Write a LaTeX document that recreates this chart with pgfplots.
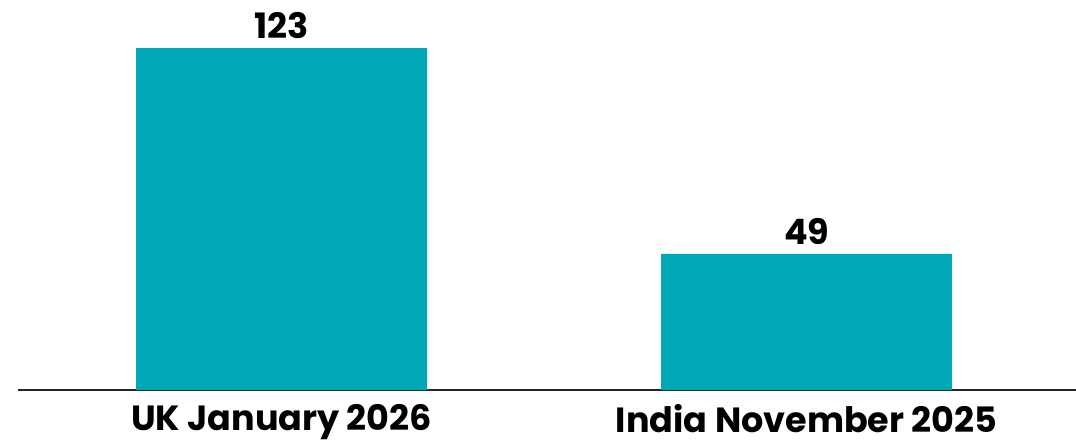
\documentclass[border=0pt]{standalone}
\usepackage{fontspec}
\setmainfont{Poppins}
\usepackage{pgfplots}
\pgfplotsset{compat=1.18}
\definecolor{barteal}{HTML}{00A9B5}

\begin{document}
\begin{tikzpicture}
\begin{axis}[
  at={(0,0)}, anchor=south west,
  scale only axis,
  width=529pt, height=195pt,
  ybar, bar width=145.5pt,
  xmin=-0.502, xmax=1.513,
  ymin=0, ymax=140.3,
  axis x line=bottom, axis y line=none,
  axis line style={black!85, line width=0.8pt, -},
  xtick={0,1}, xticklabels={UK January 2026, India November 2025},
  major tick length=0pt,
  xticklabel style={font=\fontsize{17.5}{20}\selectfont\bfseries, yshift=-3.5pt},
  /pgf/number format/assume math mode=true,
  nodes near coords,
  every node near coord/.append style={font=\fontsize{17.5}{20}\selectfont\bfseries, black, yshift=1pt},
]
\addplot[fill=barteal, draw=none] coordinates {(0,123) (1,49)};
\end{axis}
\pgfresetboundingbox
\path[use as bounding box] (-9pt,-27pt) rectangle (529pt,195pt);
\end{tikzpicture}
\end{document}
